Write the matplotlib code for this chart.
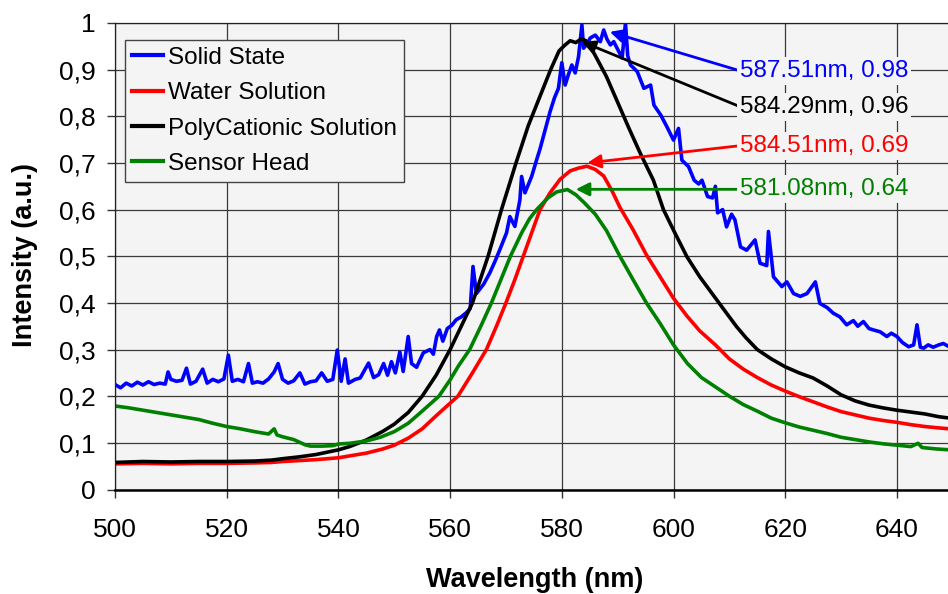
import matplotlib
matplotlib.use("Agg")
import matplotlib.pyplot as plt

plt.rcParams['font.family'] = ['Liberation Sans', 'DejaVu Sans']

# ---------------- data ----------------
solid_x = [500, 501, 502, 503, 504, 505, 506, 507, 508, 509, 509.5, 510, 511, 512, 512.8, 513.5, 514.5,
           515.7, 516.5, 517.5, 518.5, 519.5, 520.3, 521, 522, 523, 523.9, 524.6, 525.5, 526.5, 527.5,
           528.5, 529.2, 530, 531, 532, 533.1, 534, 535, 536, 537, 538, 539, 539.8, 540.5, 541.2, 541.8,
           543, 543.9, 545.4, 546.3, 547.2, 548.1, 548.8, 549.5, 550.2, 551, 551.6, 552.5, 553.1, 554,
           555.2, 556.4, 557, 557.6, 558.1, 558.7, 559.5, 560.3, 561.1, 562, 563, 563.6, 564.1, 564.7,
           566, 567.1, 568, 568.9, 570.1, 570.7, 571.6, 572.5, 572.8, 573.4, 574.6, 575.5, 576.1, 577,
           577.9, 578.7, 579.4, 580, 580.6, 581.2, 581.8, 582.4, 583, 583.6, 583.9, 584.5, 585.1, 586,
           586.9, 587.5, 588.1, 588.7, 589.3, 589.9, 590.8, 591.4, 591.8, 592.3, 593.5, 594.7, 595.9,
           596.5, 597.7, 598.8, 600, 600.9, 601.5, 602.7, 603.7, 604.5, 605.1, 606.1, 607, 607.5, 607.9,
           608.8, 609.5, 610.4, 611, 612, 613.1, 614.6, 615.5, 616.7, 617, 617.9, 619.4, 620.3, 621.5,
           622.7, 623.9, 625.4, 626.2, 627.5, 628.6, 629.8, 631, 632.2, 633, 634, 635, 635.8, 637, 638.2,
           639, 640, 641, 642.1, 643, 643.6, 644.2, 644.8, 645.6, 646.5, 647.5, 648.3, 649.5]
solid_y = [0.225, 0.218, 0.228, 0.222, 0.230, 0.224, 0.231, 0.225, 0.228, 0.226, 0.252, 0.236, 0.232,
           0.234, 0.260, 0.226, 0.232, 0.258, 0.228, 0.236, 0.231, 0.237, 0.288, 0.232, 0.236, 0.231,
           0.270, 0.228, 0.231, 0.228, 0.237, 0.252, 0.270, 0.236, 0.228, 0.233, 0.250, 0.226, 0.231,
           0.233, 0.250, 0.232, 0.236, 0.299, 0.232, 0.280, 0.228, 0.236, 0.239, 0.271, 0.240, 0.246,
           0.270, 0.245, 0.274, 0.250, 0.295, 0.253, 0.328, 0.270, 0.262, 0.293, 0.300, 0.290, 0.328,
           0.342, 0.318, 0.345, 0.352, 0.364, 0.370, 0.380, 0.388, 0.478, 0.420, 0.440, 0.464, 0.488,
           0.514, 0.550, 0.585, 0.564, 0.621, 0.671, 0.636, 0.671, 0.707, 0.730, 0.770, 0.810, 0.840,
           0.860, 0.915, 0.867, 0.890, 0.910, 0.893, 0.928, 0.996, 0.946, 0.955, 0.968, 0.974, 0.960,
           0.985, 0.965, 0.953, 0.960, 0.946, 0.925, 1.000, 0.930, 0.910, 0.896, 0.860, 0.867, 0.824,
           0.803, 0.778, 0.749, 0.774, 0.706, 0.692, 0.663, 0.655, 0.663, 0.628, 0.625, 0.650, 0.593,
           0.600, 0.563, 0.590, 0.578, 0.520, 0.513, 0.535, 0.485, 0.480, 0.553, 0.456, 0.435, 0.445,
           0.420, 0.414, 0.420, 0.445, 0.399, 0.390, 0.378, 0.370, 0.353, 0.362, 0.350, 0.360, 0.345,
           0.342, 0.338, 0.328, 0.335, 0.328, 0.315, 0.306, 0.310, 0.353, 0.305, 0.303, 0.310, 0.305,
           0.310, 0.313, 0.305]

water_x = [500, 505, 510, 515, 520, 525, 528, 530, 533, 536, 540, 543, 545, 548, 550, 552.5, 555, 557.5,
           560, 561.4, 564, 566.5, 568.3, 570, 571.6, 573.1, 574.6, 576.1, 577.9, 579.7, 581.5, 583,
           584.5, 586, 587.5, 589, 590.4, 592.8, 595.2, 597.6, 600, 602.4, 604.7, 607.5, 610, 612.5,
           615, 617.5, 620, 622.5, 625, 627.5, 630, 632.5, 635, 637.5, 640, 642.5, 645, 647.5, 649.5]
water_y = [0.055, 0.056, 0.055, 0.056, 0.056, 0.057, 0.058, 0.060, 0.062, 0.064, 0.068, 0.074, 0.078,
           0.087, 0.095, 0.110, 0.130, 0.158, 0.185, 0.200, 0.250, 0.300, 0.350, 0.400, 0.450, 0.500,
           0.550, 0.600, 0.636, 0.665, 0.683, 0.689, 0.693, 0.686, 0.672, 0.640, 0.605, 0.556, 0.502,
           0.456, 0.410, 0.372, 0.340, 0.310, 0.280, 0.258, 0.240, 0.224, 0.211, 0.199, 0.188, 0.177,
           0.167, 0.160, 0.153, 0.148, 0.144, 0.139, 0.135, 0.132, 0.130]

poly_x = [500, 505, 510, 515, 520, 525, 528, 530, 533, 536, 538, 540, 542, 545, 548, 550, 552.5, 555,
          557.5, 560, 562, 564, 566.8, 569.2, 571.8, 574, 576, 578, 579.5, 580.5, 581.5, 582.5, 583.5,
          584.3, 585, 586, 588, 590, 592, 594, 596.4, 598.2, 600, 602.4, 604.7, 607.1, 609.5, 611.3,
          613, 615, 617.5, 620, 622.5, 625, 627.5, 630, 632.5, 635, 637.5, 640, 642.5, 645, 647.5, 649.5]
poly_y = [0.058, 0.060, 0.059, 0.060, 0.060, 0.061, 0.063, 0.066, 0.070, 0.075, 0.080, 0.085, 0.092,
          0.106, 0.125, 0.140, 0.165, 0.200, 0.245, 0.300, 0.350, 0.400, 0.500, 0.600, 0.700, 0.780,
          0.840, 0.900, 0.940, 0.952, 0.962, 0.958, 0.966, 0.962, 0.952, 0.930, 0.885, 0.830, 0.775,
          0.722, 0.663, 0.600, 0.556, 0.499, 0.456, 0.417, 0.378, 0.349, 0.325, 0.300, 0.280, 0.263,
          0.250, 0.239, 0.222, 0.203, 0.190, 0.181, 0.175, 0.170, 0.166, 0.162, 0.156, 0.153]

sensor_x = [500, 502.5, 505, 507.5, 510, 512.5, 515, 517.5, 520, 522.5, 525, 527.5, 528.5, 529, 530,
            532, 534, 535, 537, 539, 540, 542, 545, 547.5, 550, 552.5, 555, 558, 560, 561.5, 563.5,
            565.5, 567.4, 569.1, 570.8, 572.8, 574.2, 575.5, 577.5, 579.1, 581, 582.5, 584, 586, 588,
            590.4, 592.8, 595.2, 597.6, 600, 602.5, 605, 607.5, 610, 612.5, 615, 617.5, 620, 622.5,
            625, 627.5, 630, 632.5, 635, 637.5, 640, 642.5, 643.8, 644.5, 647, 649.5]
sensor_y = [0.179, 0.175, 0.170, 0.165, 0.160, 0.155, 0.150, 0.142, 0.135, 0.130, 0.124, 0.119, 0.130,
            0.117, 0.113, 0.107, 0.096, 0.093, 0.093, 0.094, 0.0975, 0.099, 0.104, 0.112, 0.124, 0.142,
            0.168, 0.200, 0.235, 0.265, 0.300, 0.350, 0.400, 0.450, 0.500, 0.550, 0.580, 0.600, 0.625,
            0.638, 0.643, 0.632, 0.615, 0.590, 0.555, 0.500, 0.449, 0.399, 0.356, 0.310, 0.270, 0.240,
            0.220, 0.200, 0.182, 0.168, 0.153, 0.143, 0.134, 0.127, 0.120, 0.112, 0.107, 0.102, 0.098,
            0.095, 0.092, 0.099, 0.090, 0.087, 0.085]

series_names = ["Solid State", "Water Solution", "PolyCationic Solution", "Sensor Head"]
series_colors = ["#0000ff", "#ff0000", "#000000", "#008000"]

# peak annotations (top to bottom): label, colour, peak (tip) point, text anchor point
peak_labels = ["587.51nm, 0.98", "584.29nm, 0.96", "584.51nm, 0.69", "581.08nm, 0.64"]
peak_colors = ["#0000ff", "#000000", "#ff0000", "#008000"]
peak_tip_x = [588.6, 583.6, 584.55, 582.5]
peak_tip_y = [0.981, 0.960, 0.700, 0.6435]
label_x = [611.9, 611.9, 611.9, 611.9]
label_y = [0.8975, 0.8206, 0.737, 0.6435]

y_ticks = [0, 0.1, 0.2, 0.3, 0.4, 0.5, 0.6, 0.7, 0.8, 0.9, 1.0]
y_tick_labels = ["0", "0,1", "0,2", "0,3", "0,4", "0,5", "0,6", "0,7", "0,8", "0,9", "1"]
x_ticks = [500, 520, 540, 560, 580, 600, 620, 640]

# ---------------- figure ----------------
fig = plt.figure(figsize=(9.48, 5.94), dpi=100)
ax = fig.add_axes([115 / 948, 1 - 489.5 / 594, 837.75 / 948, 466.5 / 594])
bg = "#f4f4f4"
ax.set_facecolor(bg)

xs = [solid_x, water_x, poly_x, sensor_x]
ys = [solid_y, water_y, poly_y, sensor_y]
for x, y, n, c in zip(xs, ys, series_names, series_colors):
    ax.plot(x, y, color=c, lw=2.6, label=n, solid_joinstyle="round")

ax.set_xlim(500, 650)
ax.set_ylim(0, 1)
ax.set_xticks(x_ticks)
ax.set_yticks(y_ticks)
ax.set_yticklabels(y_tick_labels)
ax.grid(True, color="#3a3a3a", lw=0.9)
ax.set_axisbelow(True)

ax.tick_params(axis="both", labelsize=19, direction="out", width=1, color="#333333")
ax.tick_params(axis="x", length=5.5, pad=15)
ax.tick_params(axis="y", length=6, pad=8)
for s in ["left", "top"]:
    ax.spines[s].set_linewidth(0.9)
    ax.spines[s].set_color("#222222")
ax.spines["bottom"].set_linewidth(1.8)
ax.spines["bottom"].set_color("#000000")
ax.spines["right"].set_visible(False)

for lab, c, tx, ty, lx, ly in zip(peak_labels, peak_colors, peak_tip_x, peak_tip_y, label_x, label_y):
    ax.annotate("", xy=(tx, ty), xytext=(lx, ly),
                arrowprops=dict(arrowstyle="-|>", color=c, lw=2, mutation_scale=20,
                                shrinkA=0, shrinkB=0), zorder=6)
    ax.text(lx, ly, lab, color=c, fontsize=17.5, ha="left", va="center",
            bbox=dict(boxstyle="square,pad=0.12", facecolor=bg, edgecolor="none"), zorder=7)

leg = ax.legend(loc="upper left", bbox_to_anchor=(10 / 837.75, (489.5 - 40) / 466.5),
                borderaxespad=0, fontsize=17.5, frameon=True, fancybox=False,
                handlelength=1.3, handletextpad=0.2, labelspacing=0.55, borderpad=0.28)
leg.get_frame().set_facecolor(bg)
leg.get_frame().set_edgecolor("#444444")
leg.get_frame().set_linewidth(1.0)
leg.get_frame().set_alpha(1)
for l in leg.get_lines():
    l.set_linewidth(3)

fig.text(535 / 948, 1 - 580 / 594, "Wavelength (nm)", fontsize=19.5, fontweight="bold",
         ha="center", va="center")
fig.text(25 / 948, 1 - 255 / 594, "Intensity (a.u.)", fontsize=19.5, fontweight="bold",
         ha="center", va="center", rotation=90)

fig.savefig("out.png", dpi=100, facecolor="white")
